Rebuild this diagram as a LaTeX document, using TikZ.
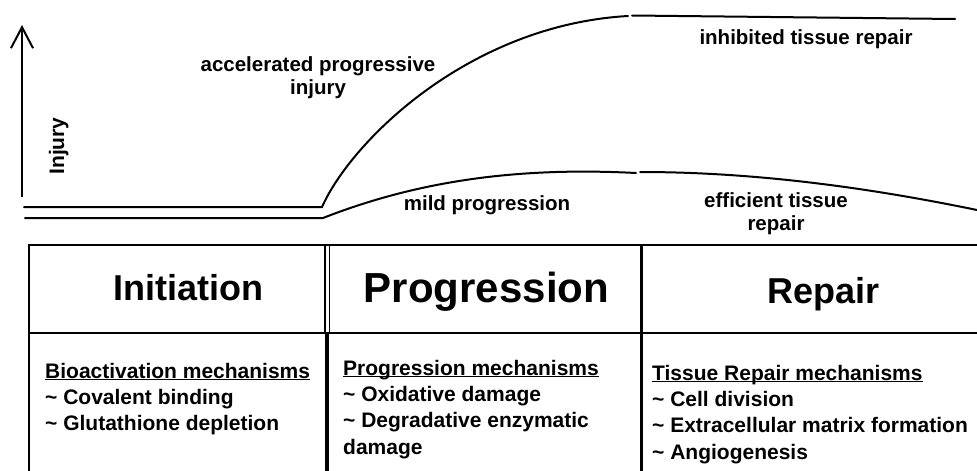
\documentclass[tikz,border=0pt]{standalone}
\usepackage{fontspec}
\setmainfont{Liberation Sans}
\usetikzlibrary{arrows.meta,positioning}
\tikzset{
  curve/.style={line width=2pt, line cap=round},
  rule/.style={line width=2pt},
  thinrule/.style={line width=1.6pt},
  thickrule/.style={line width=4pt},
  axis/.style={
    line width=2pt,
    -{Straight Barb[length=21pt, width=22pt, line width=2pt]}
  },
  curvelabel/.style={
    font=\fontsize{20.5}{22.5}\selectfont\bfseries,
    align=center,
    inner sep=0pt,
    anchor=base
  },
  phase/.style={
    font=\fontsize{36}{40}\selectfont\bfseries,
    inner sep=0pt,
    anchor=base
  },
  % base anchor of a multi-line node sits on its last line
  mech/.style={
    font=\fontsize{21}{26.3}\selectfont\bfseries,
    align=left,
    inner sep=0pt,
    anchor=base west
  }
}
\newcommand{\tld}{\textasciitilde{} }
\newcommand{\mechtitle}[1]{\underline{\smash{#1}}}

\begin{document}
\begin{tikzpicture}[x=1pt, y=-1pt]
\useasboundingbox (0,0) rectangle (977,471);

% --- injury axis ---
\coordinate (axisfoot) at (22,197);
\coordinate (axistip) at (22,25);
\draw[axis] (axisfoot) -- (axistip);
\node[font=\fontsize{21}{24}\selectfont\bfseries, rotate=90, anchor=base,
      inner sep=0pt] (injury) at (64,146) {Injury};

% --- the two courses ---
\coordinate (upleft) at (24,207);
\coordinate (upstart) at (322,207);
\coordinate (upgap) at (628,16);
\coordinate (upresume) at (632,15.5);
\coordinate (upend) at (955,19);
\coordinate (lowleft) at (25,218);
\coordinate (lowstart) at (323,218);
\coordinate (lowgap) at (636,173);
\coordinate (lowresume) at (640,172);
\coordinate (lowend) at (977,210);

\draw[curve] (upleft) -- (upstart) .. controls (352,140) and (470,25) .. (upgap);
\draw[curve] (upresume) -- (upend);
\draw[curve] (lowleft) -- (lowstart) .. controls (420,180) and (520,167) .. (lowgap);
\draw[curve] (lowresume) .. controls (760,172) and (875,189) .. (lowend);

\node[curvelabel] (accel) at (318,94) {accelerated progressive\\injury};
\node[curvelabel] (inhibit) at (806,44) {inhibited tissue repair};
\node[curvelabel] (mild) at (487,210) {mild progression};
\node[curvelabel] (efficient) at (776,230) {efficient tissue\\repair};

% --- phase table ---
\draw[rule] (29,245) -- (977,245);
\draw[rule] (29,333) -- (977,333);
\draw[rule] (29,244) -- (29,471);
\draw[thinrule] (325,245) -- (325,333);
\draw[thinrule] (329.5,245) -- (329.5,333);
\draw[thickrule] (327.3,333) -- (327.3,471);
\draw[line width=3.5pt] (641.5,244) -- (641.5,471);

\node[phase] (initHead) at (188,300) {Initiation};
\node[phase, font=\fontsize{42}{46}\selectfont\bfseries] (progHead) at (486.5,302) {Progression};
\node[phase] (repairHead) at (823.5,303) {Repair};

\node[mech] (initMech) at (45,430.6) {\mechtitle{Bioactivation mechanisms}\\
\tld Covalent binding\\
\tld Glutathione depletion};
\node[mech] (progMech) at (343,454) {\mechtitle{Progression mechanisms}\\
\tld Oxidative damage\\
\tld Degradative enzymatic\\
damage};
\node[mech] (repairMech) at (652,459) {\mechtitle{Tissue Repair mechanisms}\\
\tld Cell division\\
\tld Extracellular matrix formation\\
\tld Angiogenesis};

\end{tikzpicture}
\end{document}
